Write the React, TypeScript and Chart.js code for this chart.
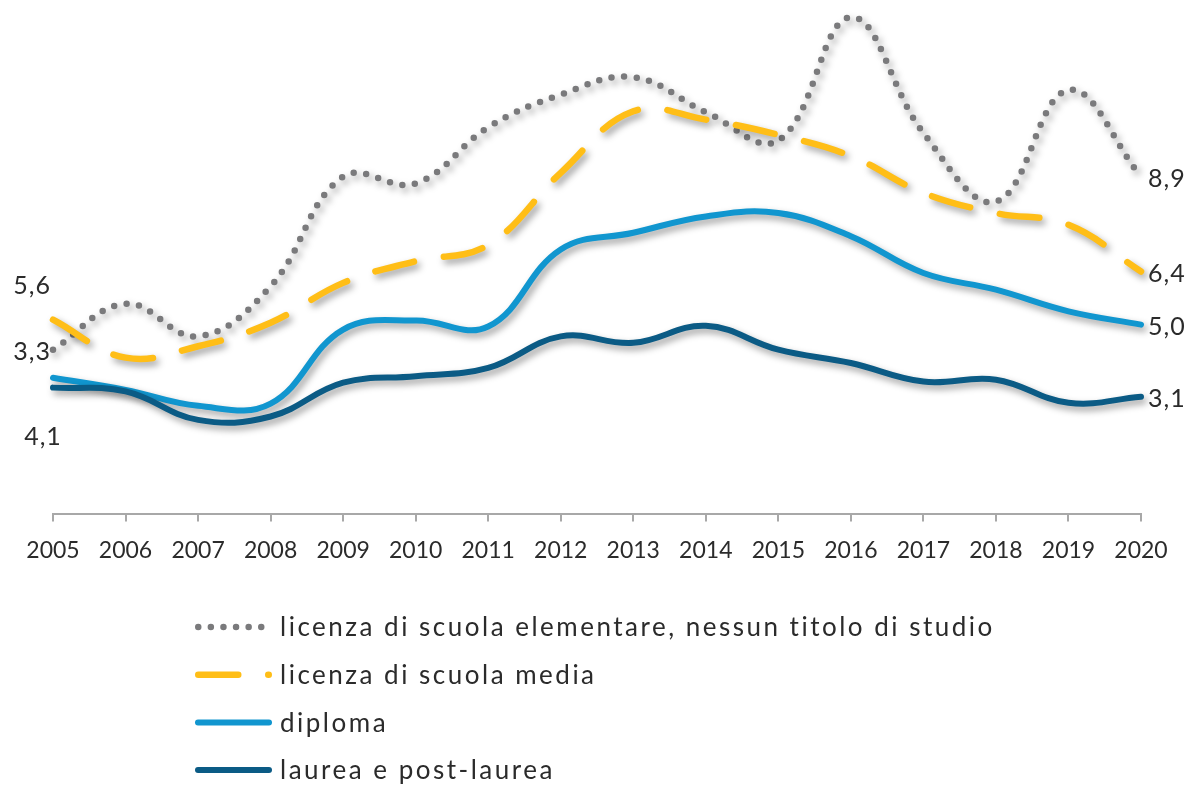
import React, { useEffect, useRef } from "react";
import { Chart, registerables } from "chart.js";

Chart.register(...registerables);

const years = ["2005", "2006", "2007", "2008", "2009", "2010", "2011", "2012", "2013", "2014", "2015", "2016", "2017", "2018", "2019", "2020"];
const elementare = [4.34, 5.55, 4.69, 6.01, 8.9, 8.72, 10.2, 11.06, 11.52, 10.6, 9.85, 13.1, 10.05, 8.24, 11.18, 8.9];
const media = [5.13, 4.13, 4.43, 5.05, 6.1, 6.67, 7.1, 9.0, 10.62, 10.4, 10.0, 9.44, 8.47, 7.94, 7.63, 6.4];
const diploma = [3.6, 3.28, 2.86, 2.92, 4.87, 5.11, 4.95, 6.98, 7.42, 7.85, 7.94, 7.33, 6.36, 5.92, 5.35, 5.0];
const laurea = [3.34, 3.24, 2.49, 2.58, 3.47, 3.64, 3.86, 4.69, 4.52, 4.97, 4.34, 3.99, 3.5, 3.55, 2.94, 3.1];

const seriesNames = [
  "licenza di scuola elementare, nessun titolo di studio",
  "licenza di scuola media",
  "diploma",
  "laurea e post-laurea",
];
const seriesColors = ["#7a7a7c", "#ffbe17", "#1196cf", "#0b5b85"];
const endLabels = ["8,9", "6,4", "5,0", "3,1"];
const startLabels = ["3,3", "5,6", "4,1", ""];

const FONT = "Lato, 'Open Sans', sans-serif";
const TEXT = "#2b2b2b";

const dashes: number[][] = [[0, 12.6], [40, 30], [], []];
const widths = [6.5, 6.5, 6, 6];

const shadowPlugin = {
  id: "lineShadow",
  beforeDatasetDraw(chart: any) {
    const ctx = chart.ctx;
    ctx.save();
    ctx.shadowColor = "rgba(0,0,0,0.38)";
    ctx.shadowBlur = 7;
    ctx.shadowOffsetX = 3;
    ctx.shadowOffsetY = 4;
  },
  afterDatasetDraw(chart: any) {
    chart.ctx.restore();
  },
};

const labelsPlugin = {
  id: "labelsAndLegend",
  afterDraw(chart: any) {
    const ctx = chart.ctx;
    const x = chart.scales.x;
    const y = chart.scales.y;
    ctx.save();
    ctx.fillStyle = TEXT;
    ctx.font = `25px ${FONT}`;
    ctx.textBaseline = "middle";
    (ctx as any).letterSpacing = "1px";
    // end labels
    chart.data.datasets.forEach((ds: any, i: number) => {
      const last = ds.data.length - 1;
      const px = x.getPixelForValue(last);
      const py = y.getPixelForValue(ds.data[last]);
      ctx.textAlign = "left";
      ctx.fillText(endLabels[i], px + 7, py + 2);
    });
    // start labels (positions as in the original)
    const starts = chart.data.datasets.map((ds: any) => ({
      px: x.getPixelForValue(0),
      py: y.getPixelForValue(ds.data[0]),
    }));
    ctx.textAlign = "right";
    ctx.fillText(startLabels[0], starts[0].px - 2, starts[0].py + 2);
    ctx.fillText(startLabels[1], starts[1].px - 2, starts[1].py - 34);
    ctx.textAlign = "center";
    ctx.fillText(startLabels[2], starts[2].px - 10, starts[2].py + 59);

    // legend
    const lx0 = 195;
    const lx1 = 272;
    const ly0 = 627;
    const step = 47.7;
    ctx.font = `26px ${FONT}`;
    (ctx as any).letterSpacing = "2.5px";
    ctx.textAlign = "left";
    seriesNames.forEach((name, i) => {
      const ly = ly0 + i * step;
      ctx.save();
      ctx.beginPath();
      ctx.strokeStyle = seriesColors[i];
      ctx.lineWidth = widths[i];
      ctx.lineCap = "round";
      ctx.setLineDash(dashes[i]);
      const sx = lx0 + widths[i] / 2;
      const ex = i === 0 ? 265 : lx1 - widths[i] / 2;
      ctx.moveTo(sx, ly);
      ctx.lineTo(ex, ly);
      ctx.stroke();
      ctx.restore();
      ctx.fillStyle = TEXT;
      ctx.fillText(name, 280, ly + 1);
    });
    ctx.restore();
  },
};

export default function App() {
  const ref = useRef<HTMLCanvasElement | null>(null);
  useEffect(() => {
    if (!ref.current) return;
    const data = [elementare, media, diploma, laurea];
    const chart = new Chart(ref.current, {
      type: "line",
      data: {
        labels: years,
        datasets: data.map((d, i) => ({
          label: seriesNames[i],
          data: d,
          borderColor: seriesColors[i],
          backgroundColor: seriesColors[i],
          borderWidth: widths[i],
          borderDash: dashes[i],
          borderCapStyle: "round",
          borderJoinStyle: "round",
          tension: 0.4,
          pointRadius: 0,
          pointHoverRadius: 0,
          fill: false,
          clip: false,
          order: 4 - i,
        })),
      },
      options: {
        responsive: false,
        animation: false,
        events: [],
        layout: { padding: { left: 53, right: 48, top: 2, bottom: 206 } },
        plugins: { legend: { display: false }, tooltip: { enabled: false } },
        scales: {
          x: {
            offset: false,
            border: { display: true, color: "#a8a8a8", width: 2 },
            grid: { display: true, drawOnChartArea: false, drawTicks: true, tickLength: 7, color: "#a8a8a8", lineWidth: 2 },
            ticks: { color: TEXT, font: { family: FONT, size: 23 }, padding: 15, maxRotation: 0, autoSkip: false },
          },
          y: {
            display: false,
            min: 0,
            max: 13.5,
          },
        },
      },
      plugins: [shadowPlugin, labelsPlugin],
    } as any);
    return () => chart.destroy();
  }, []);
  return (
    <div style={{ position: "fixed", left: 0, top: 0, width: 1189, height: 785, background: "#fff" }}>
      <canvas ref={ref} width={1189} height={785} style={{ display: "block" }} />
    </div>
  );
}
